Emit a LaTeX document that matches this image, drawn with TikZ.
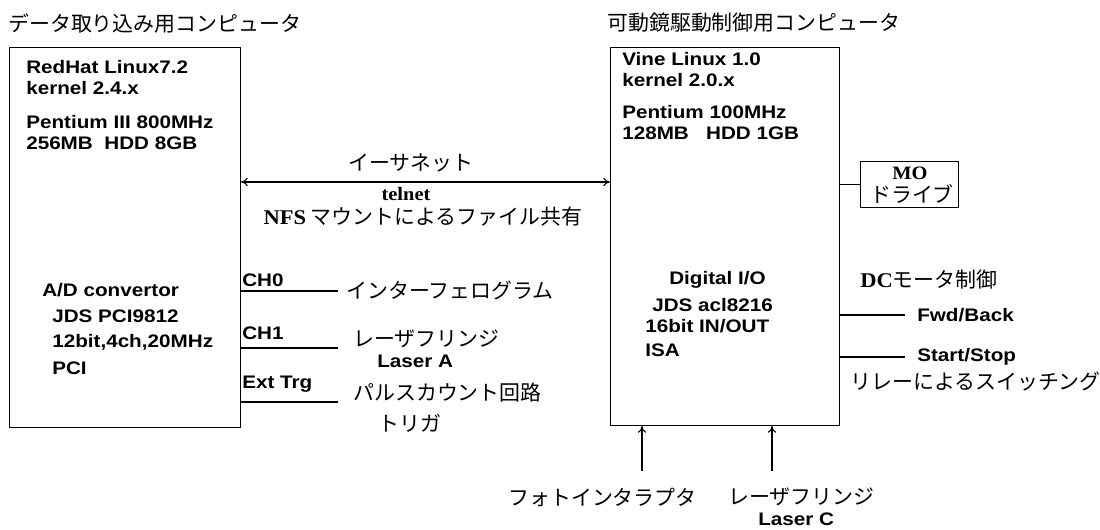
\documentclass[tikz,border=0pt]{standalone}
\usepackage{fontspec}
\usetikzlibrary{arrows.meta}
\setmainfont{Liberation Sans}
\newfontfamily\jp{Noto Sans CJK JP}
\newfontfamily\tm[FakeStretch=1.08]{Liberation Serif}
\newfontfamily\lat[FakeStretch=1.14]{Liberation Sans}
\begin{document}
\begin{tikzpicture}[x=0.75pt,y=-0.75pt,
  lt/.style={font=\lat\bfseries\fontsize{13.6}{16}\selectfont, anchor=base west, inner sep=0pt},
  jt/.style={font=\jp\fontsize{15.7}{18}\selectfont, anchor=west, inner sep=0pt},
  st/.style={font=\tm\bfseries\fontsize{14.2}{16}\selectfont, inner sep=0pt},
  box/.style={draw, line width=0.8pt, inner sep=0pt},
  wire/.style={line width=0.8pt},
  tip/.tip={To[length=5pt,width=6pt]},
  arr/.style={line width=0.8pt, -tip}]
\useasboundingbox (0,0) rectangle (1100,530);
% titles
\node[jt] (t1) at (8,23) {データ取り込み用コンピュータ};
\node[jt] (t2) at (607,23) {可動鏡駆動制御用コンピュータ};
% boxes
\node[box, minimum width=231*0.75pt, minimum height=380*0.75pt, anchor=north west] (L) at (9,47) {};
\node[box, minimum width=229*0.75pt, minimum height=378*0.75pt, anchor=north west] (R) at (610,47) {};
% left box texts
\node[lt] (l1) at (26,74) {RedHat Linux7.2};
\node[lt] (l2) at (26,95) {kernel 2.4.x};
\node[lt] (l3) at (26,129) {Pentium III 800MHz};
\node[lt] (l4) at (26,150) {256MB\ \ HDD 8GB};
\node[lt] (l5) at (42,297) {A/D convertor};
\node[lt] (l6) at (52,323) {JDS PCI9812};
\node[lt] (l7) at (52,348) {12bit,4ch,20MHz};
\node[lt] (l8) at (52,375) {PCI};
% right box texts
\node[lt] (r1) at (622,66) {Vine Linux 1.0};
\node[lt] (r2) at (622,87) {kernel 2.0.x};
\node[lt] (r3) at (622,119) {Pentium 100MHz};
\node[lt] (r4) at (622,140) {128MB\ \ \ HDD 1GB};
\node[lt] (r5) at (669,285) {Digital I/O};
\node[lt] (r6) at (652,312) {JDS acl8216};
\node[lt] (r7) at (645,333) {16bit IN/OUT};
\node[lt] (r8) at (645,357) {ISA};
% ethernet
\coordinate (eL) at (L.east |- 0,182);
\coordinate (eR) at (R.west |- 0,182);
\draw[line width=0.8pt, tip-tip] (eL) -- (eR);
\node[jt, anchor=center] (eth) at (411,163) {イーサネット};
\node[st, anchor=base] (tel) at (406,201) {telnet};
\node[jt, anchor=center] (nfs) at (423,217) {{\tm\bfseries NFS} マウントによるファイル共有};
% MO drive
\node[box, minimum width=98*0.75pt, minimum height=46*0.75pt, anchor=north west] (MO) at (860,161) {};
\node[st, anchor=base] (mo1) at (910,180) {MO};
\node[jt, anchor=center] (mo2) at (912,194) {ドライブ};
\draw[wire] (R.east |- MO.west) -- (MO.west);
% channels
\node[lt] (c0) at (242,287) {CH0};
\node[lt] (c1) at (242,340) {CH1};
\node[lt] (c2) at (242,389) {Ext Trg};
\coordinate (c0e) at (338,291);
\coordinate (c1e) at (338,348);
\coordinate (c2e) at (338,402);
\draw[wire] (L.east |- c0e) -- (c0e);
\draw[wire] (L.east |- c1e) -- (c1e);
\draw[wire] (L.east |- c2e) -- (c2e);
\node[jt] (j0) at (346,290) {インターフェログラム};
\node[jt] (j1) at (353,339) {レーザフリンジ};
\node[lt] (la) at (377,368) {Laser A};
\node[jt] (j2) at (353,393) {パルスカウント回路};
\node[jt] (j3) at (378,423) {トリガ};
% DC motor
\node[jt] (dc) at (860,280) {{\tm\bfseries DC}モータ制御};
\coordinate (fe) at (905,315);
\coordinate (se) at (905,357);
\draw[wire] (R.east |- fe) -- (fe);
\draw[wire] (R.east |- se) -- (se);
\node[lt] (fw) at (917,322) {Fwd/Back};
\node[lt] (ss) at (917,362) {Start/Stop};
\node[jt] (rl) at (850,381) {リレーによるスイッチング};
% bottom
\coordinate (b1) at (642,471);
\coordinate (b2) at (772,471);
\draw[arr] (b1) -- (b1 |- R.south);
\draw[arr] (b2) -- (b2 |- R.south);
\node[jt] (pi) at (508,497) {フォトインタラプタ};
\node[jt] (lf) at (728,497) {レーザフリンジ};
\node[lt] (lc) at (758,526) {Laser C};
\end{tikzpicture}
\end{document}
